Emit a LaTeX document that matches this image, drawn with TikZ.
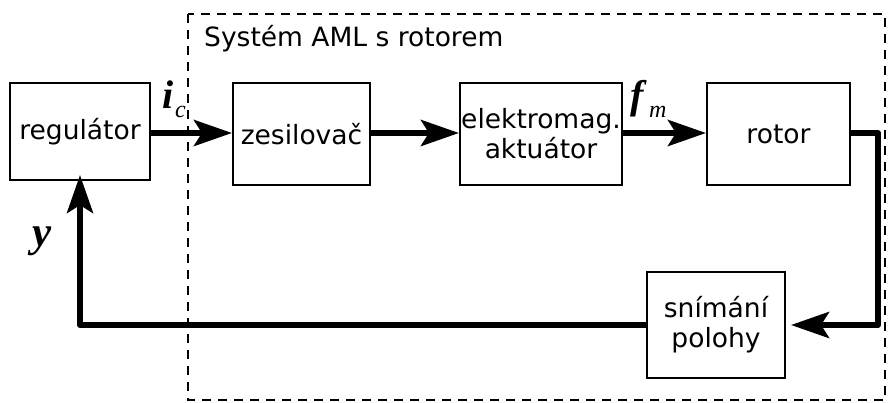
\documentclass[tikz,border=0pt]{standalone}
\usepackage{fontspec}
\setmainfont{DejaVu Sans}
\newfontfamily\tnr{Liberation Serif}
\usetikzlibrary{arrows.meta}
\begin{document}
\begin{tikzpicture}[x=1pt,y=-1pt,
  blk/.style={draw,line width=2pt,minimum width=#1,inner sep=0pt,align=center,font=\fontsize{26.5}{30}\selectfont},
  sig/.style={line width=6pt,-{Stealth[length=38pt,width=26pt,inset=8pt]}},
  lab/.style={font=\fontsize{40}{40}\selectfont\tnr\bfseries\itshape,inner sep=0pt},
  subs/.style={font=\fontsize{24}{24}\selectfont\tnr\itshape,inner sep=0pt}]
\useasboundingbox (0,0) rectangle (889,403);
\draw[line width=1.5pt,dash pattern=on 9pt off 7pt] (188,14) rectangle (885,400);
\node[anchor=base west,font=\fontsize{26.5}{30}\selectfont,inner sep=0pt] (title) at (204,47) {Systém AML s rotorem};
\node[blk=140pt,minimum height=97pt] (reg) at (80,131.5) {regulátor};
\node[blk=137pt,minimum height=102pt] (zes) at (301.5,134) {zesilovač};
\node[blk=162pt,minimum height=102pt] (akt) at (541,134) {elektromag.\\aktuátor};
\node[blk=143pt,minimum height=102pt] (rot) at (778.5,134) {rotor};
\node[blk=138pt,minimum height=106pt] (sni) at (716,325) {snímání\\polohy};
\coordinate (c1) at (878,133);
\coordinate (c2) at (878,325);
\coordinate (c3) at (80,325);
\draw[sig] (reg.east |- 0,133) -- (zes.west |- 0,133);
\draw[sig] (zes.east |- 0,133) -- (akt.west |- 0,133);
\draw[sig] (akt.east |- 0,133) -- (rot.west |- 0,133);
\draw[sig,line join=round] (rot.east |- 0,133) -- (c1) -- (c2) -- ([xshift=5pt]sni.east |- c2);
\draw[sig,line join=round] (sni.west |- c2) -- (c3) -- ([yshift=6pt]reg.south);
\node[lab,anchor=base west] (ic) at (162,109) {i};
\node[subs,anchor=base west] (icc) at (175,118) {c};
\node[lab,anchor=base west] (fm) at (630,109) {f};
\node[subs,anchor=base west] (fmm) at (649,118) {m};
\node[lab,font=\fontsize{43}{43}\selectfont\tnr\bfseries\itshape,anchor=base west] (y) at (32,247) {y};
\end{tikzpicture}
\end{document}
